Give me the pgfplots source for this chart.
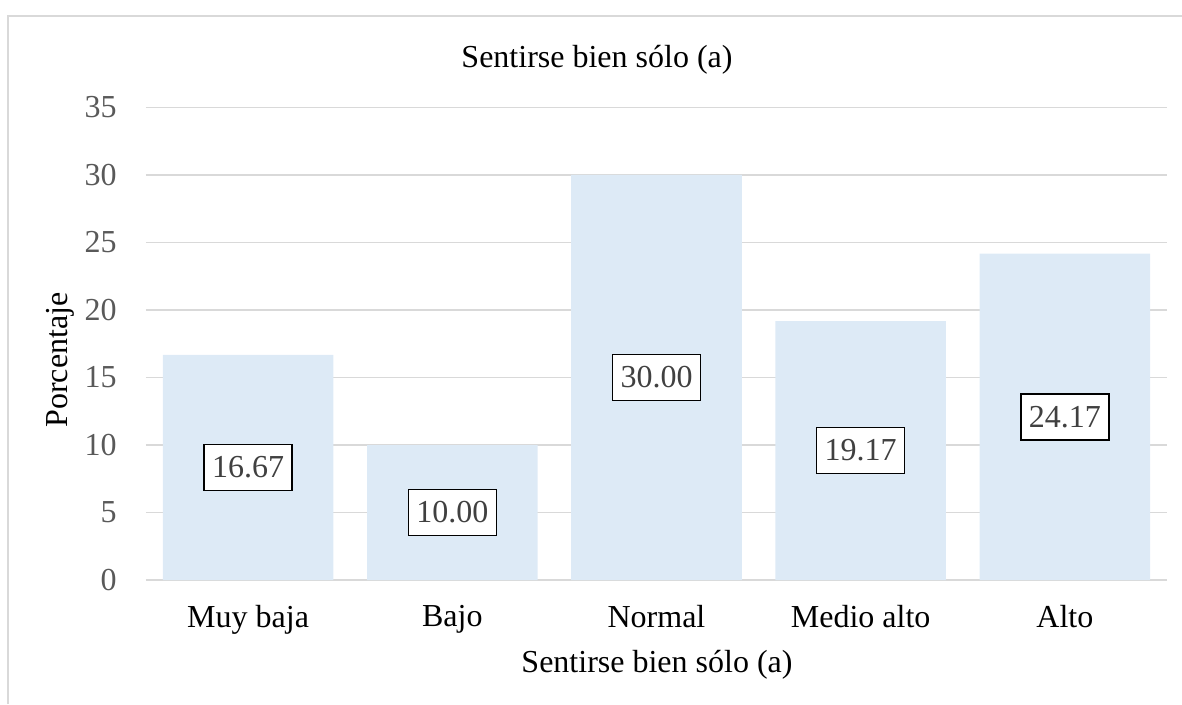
\documentclass[border=0pt]{standalone}
\usepackage{fontspec}
\setmainfont{Liberation Serif}
\usepackage{pgfplots}
\usepackage{pgfplotstable}
\pgfplotsset{compat=1.18}
\definecolor{barblue}{HTML}{DDEAF6}
\definecolor{gridgray}{HTML}{D9D9D9}
\definecolor{tickgray}{HTML}{595959}
\definecolor{labgray}{HTML}{404040}
\pgfplotstableread{
x y
0 16.67
1 10.00
2 30.00
3 19.17
4 24.17
}\datatable
\begin{document}
\begin{tikzpicture}[x=0.75pt,y=0.75pt,every node/.style={font=\fontsize{24}{28}\selectfont}]
\useasboundingbox (0,0) rectangle (1182,704);
\draw[gridgray, line width=1.1pt] (8,0) -- (8,688) -- (1182,688);
\node[anchor=base] at (597,636) {Sentirse bien sólo (a)};
\node[anchor=base] at (657,32) {Sentirse bien sólo (a)};
\node[anchor=base, rotate=90] at (67,344) {Porcentaje};
\begin{axis}[
  at={(109.5pt,93pt)}, anchor=south west,
  scale only axis, width=765.75pt, height=354.375pt,
  xmin=-0.5, xmax=4.5, ymin=0, ymax=35,
  xtick={0,1,2,3,4}, xticklabels={Muy baja,Bajo,Normal,Medio alto,Alto},
  ytick={0,5,...,35},
  ymajorgrids, grid style={gridgray, line width=1.1pt},
  axis line style={draw=none},
  major tick length=0pt,
  tick label style={font=\fontsize{24}{28}\selectfont, inner sep=0pt},
  yticklabel style={color=tickgray, xshift=-21.75pt},
  xticklabel style={color=black, yshift=-18.75pt},
  /pgf/number format/assume math mode=true,
  clip=false,
]
\addplot[ybar, bar width=0.835, fill=barblue, draw=none] table[x=x,y=y]{\datatable};
\addplot[draw=none, mark=none, nodes near coords, point meta=explicit,
  nodes near coords align=center,
  every node near coord/.style={draw=black, line width=1.1pt, fill=white,
    font=\fontsize{24}{28}\selectfont, text=labgray, inner xsep=6pt, inner ysep=0pt,
    minimum height=34.5pt, anchor=center,
    /pgf/number format/.cd, fixed, fixed zerofill, precision=2, assume math mode=true}
] table[x=x, y expr=\thisrow{y}/2, meta=y]{\datatable};
\end{axis}
\end{tikzpicture}
\end{document}
